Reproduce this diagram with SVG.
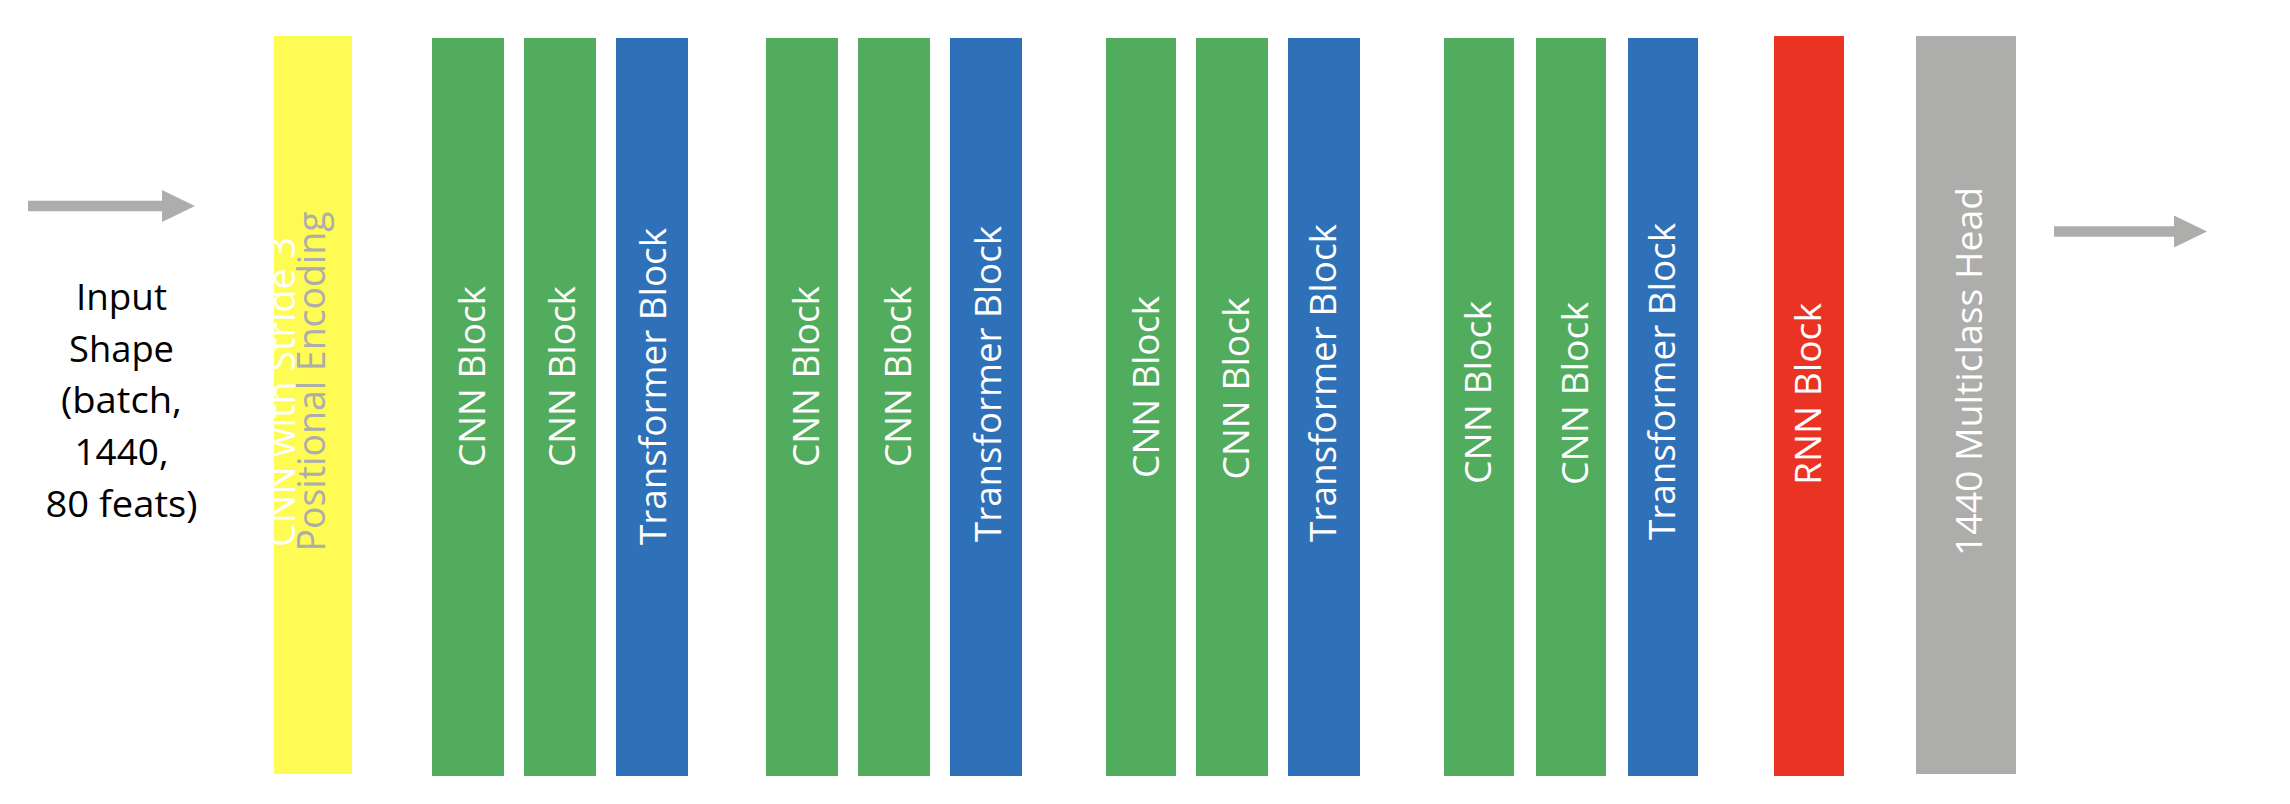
<svg xmlns="http://www.w3.org/2000/svg" width="2290" height="804" viewBox="0 0 2290 804">
<style>
.bar-g{fill:#51AC5D}
.bar-b{fill:#2F71B9}
.bar-y{fill:#FEFB55}
.bar-r{fill:#EB3324}
.bar-k{fill:#ADADAB}
.lbl{font-family:"Open Sans","Liberation Sans",sans-serif;font-size:37px;fill:#FFFFFF;text-anchor:middle}
.lbl-s{font-family:"Open Sans","Liberation Sans",sans-serif;font-size:38px;text-anchor:start}
.inp{font-family:"Open Sans","Liberation Sans",sans-serif;font-size:37px;fill:#000000;text-anchor:middle}
.conn{stroke:#ADADAB;stroke-width:10.5;fill:none}
</style>
<defs>
<marker id="ah" markerUnits="userSpaceOnUse" markerWidth="34" markerHeight="33" refX="0" refY="16" orient="auto">
<path d="M0,0 L33,16 L0,32 Z" fill="#ADADAB"/>
</marker>
</defs>
<rect width="2290" height="804" fill="#FFFFFF"/>

<g id="connectors">
<line class="conn" x1="28" y1="206" x2="162" y2="206" marker-end="url(#ah)"/>
<line class="conn" x1="2054" y1="231.5" x2="2174" y2="231.5" marker-end="url(#ah)"/>
</g>

<g id="input-label">
<text class="inp" x="121.5" y="310" textLength="91" lengthAdjust="spacingAndGlyphs">Input</text>
<text class="inp" x="121.5" y="361.7" textLength="105" lengthAdjust="spacingAndGlyphs">Shape</text>
<text class="inp" x="121.5" y="413.4" textLength="121" lengthAdjust="spacingAndGlyphs">(batch,</text>
<text class="inp" x="121.5" y="465.1" textLength="94" lengthAdjust="spacingAndGlyphs">1440,</text>
<text class="inp" x="121.5" y="516.8" textLength="152" lengthAdjust="spacingAndGlyphs">80 feats)</text>
</g>

<g id="node-cnn-stride">
<rect class="bar-y" x="274" y="36" width="78" height="738"/>
<text class="lbl-s" fill="#FFFFFF" transform="translate(295,547) rotate(-90)" textLength="310" lengthAdjust="spacingAndGlyphs">CNN with Stride 3</text>
<text class="lbl-s" fill="#ADADAB" transform="translate(325,551.5) rotate(-90)" textLength="340" lengthAdjust="spacingAndGlyphs">Positional Encoding</text>
</g>

<g id="node-cnn1">
<rect class="bar-g" x="432" y="38" width="72" height="738"/>
<text class="lbl" transform="translate(485,376.5) rotate(-90)" textLength="181" lengthAdjust="spacingAndGlyphs">CNN Block</text>
</g>
<g id="node-cnn2">
<rect class="bar-g" x="524" y="38" width="72" height="738"/>
<text class="lbl" transform="translate(575,376.5) rotate(-90)" textLength="181" lengthAdjust="spacingAndGlyphs">CNN Block</text>
</g>
<g id="node-transformer1">
<rect class="bar-b" x="616" y="38" width="72" height="738"/>
<text class="lbl" transform="translate(666,386.5) rotate(-90)" textLength="317" lengthAdjust="spacingAndGlyphs">Transformer Block</text>
</g>

<g id="node-cnn3">
<rect class="bar-g" x="766" y="38" width="72" height="738"/>
<text class="lbl" transform="translate(819,376.5) rotate(-90)" textLength="181" lengthAdjust="spacingAndGlyphs">CNN Block</text>
</g>
<g id="node-cnn4">
<rect class="bar-g" x="858" y="38" width="72" height="738"/>
<text class="lbl" transform="translate(911,376.5) rotate(-90)" textLength="181" lengthAdjust="spacingAndGlyphs">CNN Block</text>
</g>
<g id="node-transformer2">
<rect class="bar-b" x="950" y="38" width="72" height="738"/>
<text class="lbl" transform="translate(1001,384) rotate(-90)" textLength="316" lengthAdjust="spacingAndGlyphs">Transformer Block</text>
</g>

<g id="node-cnn5">
<rect class="bar-g" x="1106" y="38" width="70" height="738"/>
<text class="lbl" transform="translate(1159,387) rotate(-90)" textLength="182" lengthAdjust="spacingAndGlyphs">CNN Block</text>
</g>
<g id="node-cnn6">
<rect class="bar-g" x="1196" y="38" width="72" height="738"/>
<text class="lbl" transform="translate(1249,388.5) rotate(-90)" textLength="182" lengthAdjust="spacingAndGlyphs">CNN Block</text>
</g>
<g id="node-transformer3">
<rect class="bar-b" x="1288" y="38" width="72" height="738"/>
<text class="lbl" transform="translate(1336,383) rotate(-90)" textLength="318" lengthAdjust="spacingAndGlyphs">Transformer Block</text>
</g>

<g id="node-cnn7">
<rect class="bar-g" x="1444" y="38" width="70" height="738"/>
<text class="lbl" transform="translate(1491,392.5) rotate(-90)" textLength="183" lengthAdjust="spacingAndGlyphs">CNN Block</text>
</g>
<g id="node-cnn8">
<rect class="bar-g" x="1536" y="38" width="70" height="738"/>
<text class="lbl" transform="translate(1588,393.5) rotate(-90)" textLength="183" lengthAdjust="spacingAndGlyphs">CNN Block</text>
</g>
<g id="node-transformer4">
<rect class="bar-b" x="1628" y="38" width="70" height="738"/>
<text class="lbl" transform="translate(1675,381.5) rotate(-90)" textLength="317" lengthAdjust="spacingAndGlyphs">Transformer Block</text>
</g>

<g id="node-rnn">
<rect class="bar-r" x="1774" y="36" width="70" height="740"/>
<text class="lbl" transform="translate(1821,394) rotate(-90)" textLength="182" lengthAdjust="spacingAndGlyphs">RNN Block</text>
</g>

<g id="node-head">
<rect class="bar-k" x="1916" y="36" width="100" height="738"/>
<text class="lbl" fill="#FFFFFF" transform="translate(1982,371.5) rotate(-90)" textLength="369" lengthAdjust="spacingAndGlyphs">1440 Multiclass Head</text>
</g>
</svg>
